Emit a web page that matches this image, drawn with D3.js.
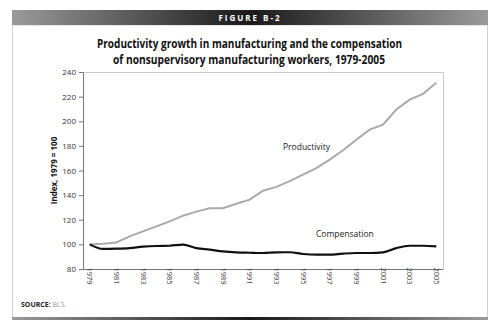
<!DOCTYPE html>
<html>
<head>
<meta charset="utf-8">
<script src="https://cdn.jsdelivr.net/npm/d3@7"></script>
<style>
  body { margin: 0; background: #fff; }
  svg { display: block; font-family: "Open Sans", "Noto Sans", sans-serif; }
</style>
</head>
<body>
<svg id="chart" width="500" height="333"></svg>
<script>
var w = 500, h = 333;

var years = d3.range(1979, 2006);
var productivity = [100, 100.5, 101.5, 106.5, 110.6, 114.6, 118.7, 123.3, 126.6, 129.3, 129.3, 133, 136.3, 143.6,
  146.7, 151.3, 156.7, 162, 168.9, 176.4, 185, 193.2, 197.3, 209.5, 217.6, 222.3, 231.2];
var compensation = [100, 96.3, 96.5, 97, 98.1, 98.7, 98.9, 99.8, 97, 95.7, 94.3, 93.5, 93.2, 93,
  93.5, 93.6, 92.2, 91.6, 91.6, 92.5, 93, 93, 93.5, 97, 98.9, 98.9, 98.4];
var yTicks = [80, 100, 120, 140, 160, 180, 200, 220, 240];
var xTicks = years.filter(function (d) { return (d - 1979) % 2 == 0; });

var svg = d3.select("#chart");

// frame + gradient bars
var defs = svg.append("defs");
var grad = defs.append("linearGradient").attr("id", "bar");
grad.append("stop").attr("offset", "0%").attr("stop-color", "#9a9a9a");
grad.append("stop").attr("offset", "50%").attr("stop-color", "#1a1a1a");
grad.append("stop").attr("offset", "100%").attr("stop-color", "#9a9a9a");

svg.append("rect").attr("x", 12.5).attr("y", 25).attr("width", 475).attr("height", 293)
  .attr("fill", "#fff").attr("stroke", "#cfcfcf");
svg.append("rect").attr("x", 12).attr("y", 10).attr("width", 476).attr("height", 15).attr("fill", "url(#bar)");
svg.append("rect").attr("x", 12).attr("y", 317).attr("width", 476).attr("height", 3).attr("fill", "url(#bar)");

svg.append("text").attr("x", 250).attr("y", 20.5).attr("text-anchor", "middle")
  .attr("fill", "#fff").attr("font-size", 8).attr("font-weight", "bold").attr("letter-spacing", 2)
  .text("FIGURE B-2");

// title, squeezed to the reference width
var title = svg.append("g").attr("font-size", 11.8).attr("font-weight", "bold").attr("fill", "#111");
title.append("text").attr("x", 97).attr("y", 48).attr("textLength", 305).attr("lengthAdjust", "spacingAndGlyphs")
  .text("Productivity growth in manufacturing and the compensation");
title.append("text").attr("x", 113).attr("y", 64).attr("textLength", 272).attr("lengthAdjust", "spacingAndGlyphs")
  .text("of nonsupervisory manufacturing workers, 1979-2005");

var margin = { left: 83, right: 443, top: 72, bottom: 269 };

var x = d3.scaleBand().domain(years).range([margin.left, margin.right]);
var y = d3.scaleLinear().domain([80, 240]).range([margin.bottom, margin.top]);
var cx = function (d) { return x(d) + x.bandwidth() / 2; };

// plot border (top/right)
svg.append("path")
  .attr("d", "M" + margin.left + "," + (margin.top + 0.5) + "H" + (margin.right + 0.5) + "V" + margin.bottom)
  .attr("fill", "none").attr("stroke", "#c8c8c8");

var yAxis = svg.append("g").attr("transform", "translate(" + margin.left + ",0)")
  .call(d3.axisLeft(y).tickValues(yTicks).tickSize(4).tickPadding(3));
yAxis.selectAll("text").attr("font-size", 8).attr("fill", "#333").attr("font-family", "Open Sans");
yAxis.selectAll("line, path").attr("stroke", "#777");

var xAxis = svg.append("g").attr("transform", "translate(0," + margin.bottom + ")")
  .call(d3.axisBottom(x).tickValues([]).tickSize(0));
xAxis.selectAll("path").attr("stroke", "#777");
xAxis.selectAll(".yl").data(xTicks).enter().append("text")
  .attr("transform", function (d) { return "translate(" + (cx(d) - 2.5) + ",7) rotate(90)"; })
  .attr("font-size", 7.5).attr("fill", "#444").attr("font-family", "Open Sans")
  .text(function (d) { return d; });

svg.append("text").attr("transform", "translate(57," + ((margin.top + margin.bottom) / 2) + ") rotate(-90)")
  .attr("text-anchor", "middle").attr("font-size", 8).attr("font-weight", "bold").attr("fill", "#111")
  .text("Index, 1979 = 100");

var line = d3.line().x(function (d, i) { return cx(years[i]); }).y(function (d) { return y(d); });

svg.append("path").datum(productivity).attr("d", line)
  .attr("fill", "none").attr("stroke", "#aaaaaa").attr("stroke-width", 2);
svg.append("path").datum(compensation).attr("d", line.curve(d3.curveMonotoneX))
  .attr("fill", "none").attr("stroke", "#111").attr("stroke-width", 2.2);

svg.append("text").attr("x", 283).attr("y", 150).attr("font-size", 8.5).attr("fill", "#222").text("Productivity");
svg.append("text").attr("x", 316).attr("y", 237).attr("font-size", 8.5).attr("fill", "#222").text("Compensation");

var src = svg.append("text").attr("x", 21).attr("y", 307).attr("font-size", 7);
src.append("tspan").attr("font-weight", "bold").attr("fill", "#222").text("SOURCE: ");
src.append("tspan").attr("fill", "#999").text("BLS.");
</script>
</body>
</html>
